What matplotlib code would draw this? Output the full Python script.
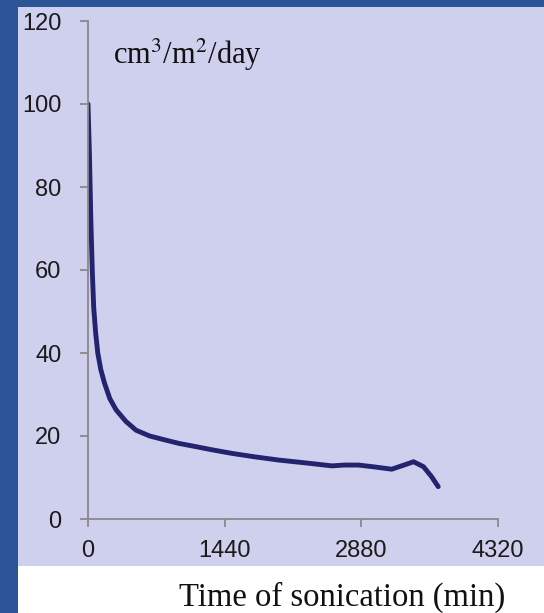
import numpy as np
import matplotlib
matplotlib.use('Agg')
import matplotlib.pyplot as plt
from matplotlib.patches import Rectangle

# permeation rate vs sonication time
time_min = [0, 15, 30, 45, 60, 80, 103, 135, 173, 230, 296, 400, 506, 650, 820, 961, 1100,
            1300, 1520, 1750, 2010, 2300, 2570, 2700, 2850, 3000, 3200, 3330, 3430, 3535, 3620, 3690]
rate = [100, 88, 72, 60, 51, 45, 40, 36, 32.8, 29, 26.3, 23.5, 21.4, 20.0, 19.0, 18.2, 17.6,
        16.7, 15.8, 15.0, 14.2, 13.5, 12.8, 13.0, 13.0, 12.6, 12.0, 13.0, 13.8, 12.6, 10.2, 7.8]
xticks = [0, 1440, 2880, 4320]
yticks = [0, 20, 40, 60, 80, 100, 120]

W, H = 544, 613
fig = plt.figure(figsize=(W/100, H/100), dpi=100, facecolor='#2c5597')

# lavender panel and white strip under it
fig.patches.append(Rectangle((18/W, 47/H), 1-18/W, 1-7/H-47/H, transform=fig.transFigure,
                             facecolor='#cfcfee', edgecolor='none', zorder=-2))
fig.patches.append(Rectangle((18/W, 0), 1-18/W, 47/H, transform=fig.transFigure,
                             facecolor='white', edgecolor='none', zorder=-2))

ax = fig.add_axes([88/W, 1-519/H, (498-88)/W, (519-21)/H])
ax.set_zorder(2)
ax.patch.set_alpha(0)
ax.plot(time_min, rate, color='#23236e', lw=3.5, solid_capstyle='round', solid_joinstyle='round')

ax.set_xlim(0, 4320)
ax.set_ylim(0, 120)
ax.set_xticks(xticks)
ax.set_yticks(yticks)
for s in ['top', 'right']:
    ax.spines[s].set_visible(False)
for s in ['left', 'bottom']:
    ax.spines[s].set_color('#8a8a8a')
    ax.spines[s].set_linewidth(1.3)
ax.tick_params(colors='#8a8a8a', length=6, width=1.3, direction='out')
ax.tick_params(axis='both', labelcolor='#1a1a1a', labelsize=17)
ax.tick_params(axis='x', pad=9)
ax.tick_params(axis='y', pad=13)
for lab in ax.get_xticklabels() + ax.get_yticklabels():
    lab.set_family('Liberation Sans')

ax.text(0.061, 0.932, 'cm$^3$/m$^2$/day', transform=ax.transAxes, fontsize=22,
        family='Liberation Serif', math_fontfamily='stix', color='#111111', va='center')
fig.text(342/W, 1-597/H, 'Time of sonication (min)', fontsize=23.5, family='Liberation Serif',
         color='#111111', ha='center', va='center', zorder=3)

fig.savefig('out.png', dpi=100, facecolor=fig.get_facecolor())
